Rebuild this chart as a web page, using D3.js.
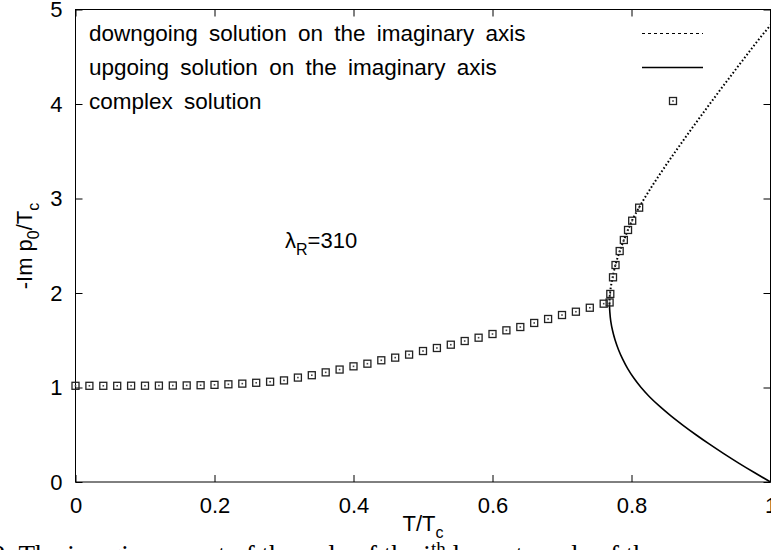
<!DOCTYPE html>
<html>
<head>
<meta charset="utf-8">
<script src="https://cdn.jsdelivr.net/npm/d3@7"></script>
<style>
  body { margin: 0; background: #fff; }
  svg { display: block; font-family: "Liberation Sans", Arial, sans-serif; }
</style>
</head>
<body>
<div id="chart_area"></div>
<script>
// complex solution (squares)
const complexT = [0, 0.02, 0.04, 0.06, 0.08, 0.10, 0.12, 0.14, 0.16, 0.18,
  0.20, 0.22, 0.24, 0.26, 0.28, 0.30, 0.32, 0.34, 0.36, 0.38,
  0.40, 0.42, 0.44, 0.46, 0.48, 0.50, 0.52, 0.54, 0.56, 0.58,
  0.60, 0.62, 0.64, 0.66, 0.68, 0.70, 0.72, 0.74, 0.76,
  0.7685, 0.7695, 0.7734, 0.777, 0.783, 0.789, 0.795, 0.801, 0.811];
const complexV = [1.018, 1.018, 1.018, 1.018, 1.019, 1.019, 1.020, 1.021, 1.022, 1.024,
  1.028, 1.034, 1.041, 1.050, 1.061, 1.075, 1.105, 1.13, 1.16, 1.19,
  1.224, 1.252, 1.288, 1.316, 1.348, 1.386, 1.418, 1.453, 1.492, 1.527,
  1.566, 1.605, 1.640, 1.683, 1.725, 1.767, 1.802, 1.844, 1.887,
  1.90, 1.99, 2.166, 2.296, 2.444, 2.561, 2.667, 2.765, 2.903];

// downgoing solution on the imaginary axis (dotted)
const downT = [0.7683, 0.7686, 0.7700, 0.7730, 0.7770, 0.7830, 0.7890, 0.7950, 0.8010,
  0.8105, 0.8269, 0.8494, 0.8731, 0.8956, 0.9176, 0.9390, 0.9608, 0.9839, 1.0];
const downV = [1.88, 1.95, 2.05, 2.17, 2.30, 2.44, 2.56, 2.67, 2.77,
  2.90, 3.10, 3.35, 3.60, 3.83, 4.05, 4.26, 4.47, 4.69, 4.835];

// upgoing solution on the imaginary axis (solid)
const upT = [0.7683, 0.7688, 0.7702, 0.7728, 0.7765, 0.7813, 0.7873, 0.7945, 0.8033,
  0.8138, 0.8262, 0.8407, 0.8567, 0.8742, 0.8927, 0.9122, 0.9327, 0.9542, 0.9767, 1.0];
const upV = [1.88, 1.80, 1.70, 1.60, 1.50, 1.40, 1.30, 1.20, 1.10,
  1.00, 0.90, 0.80, 0.70, 0.60, 0.50, 0.40, 0.30, 0.20, 0.10, 0];

const xTicks = [0, 0.2, 0.4, 0.6, 0.8, 1];
const xTickLabels = ['0', '0.2', '0.4', '0.6', '0.8', '1'];
const yTicks = [0, 1, 2, 3, 4, 5];

const legendLabels = [
  'downgoing solution on the imaginary axis',
  'upgoing solution on the imaginary axis',
  'complex solution'
];

const width = 771;
const height = 550;
const plot = { left: 75.5, right: 770.5, top: 9.5, bottom: 482 };

const x = d3.scaleLinear().domain([0, 1]).range([plot.left, plot.right]);
const y = d3.scaleLinear().domain([0, 5]).range([plot.bottom, plot.top]);

const svg = d3
  .select('#chart_area')
  .append('svg')
  .attr('width', width)
  .attr('height', height);

// axes (gnuplot style: inward ticks, mirrored)
const fontSize = 22;
const bottomAxis = svg.append('g')
  .attr('transform', 'translate(0,' + plot.bottom + ')')
  .call(d3.axisBottom(x).tickValues(xTicks)
    .tickFormat((d, i) => xTickLabels[i])
    .tickSize(-7).tickPadding(15));
const leftAxis = svg.append('g')
  .attr('transform', 'translate(' + plot.left + ',0)')
  .call(d3.axisLeft(y).tickValues(yTicks).tickFormat(d3.format('d'))
    .tickSize(-7).tickPadding(13));
const topAxis = svg.append('g')
  .attr('transform', 'translate(0,' + plot.top + ')')
  .call(d3.axisTop(x).tickValues(xTicks).tickFormat('').tickSize(-7));
const rightAxis = svg.append('g')
  .attr('transform', 'translate(' + plot.right + ',0)')
  .call(d3.axisRight(y).tickValues(yTicks).tickFormat('').tickSize(-7));

[bottomAxis, leftAxis, topAxis, rightAxis].forEach(g => {
  g.select('.domain').remove();
  g.selectAll('line').attr('stroke', '#000').attr('stroke-width', 1);
  g.selectAll('text')
    .attr('fill', '#000')
    .style('font-family', '"Liberation Sans", Arial, sans-serif')
    .style('font-size', fontSize + 'px');
});

// border
svg.append('rect')
  .attr('x', plot.left)
  .attr('y', plot.top)
  .attr('width', plot.right - plot.left)
  .attr('height', plot.bottom - plot.top)
  .attr('fill', 'none')
  .attr('stroke', '#000')
  .attr('stroke-width', 1);

// curves (both are single valued in v, so smooth along y)
const line = d3.line()
  .x(d => x(d[0]))
  .y(d => y(d[1]))
  .curve(d3.curveMonotoneY);

const downData = downT.map((t, i) => [t, downV[i]]);
const upData = upT.map((t, i) => [t, upV[i]]);

svg.append('path')
  .datum(downData)
  .attr('d', line)
  .attr('fill', 'none')
  .attr('stroke', '#000')
  .attr('stroke-width', 2)
  .attr('stroke-dasharray', '1.6,2.2');

svg.append('path')
  .datum(upData)
  .attr('d', line)
  .attr('fill', 'none')
  .attr('stroke', '#000')
  .attr('stroke-width', 1.6);

// squares
function square(g, cx, cy) {
  g.append('rect')
    .attr('x', cx - 3.5).attr('y', cy - 3.5)
    .attr('width', 7).attr('height', 7)
    .attr('fill', 'none')
    .attr('stroke', '#222')
    .attr('stroke-width', 1.3);
  g.append('rect')
    .attr('x', cx - 0.8).attr('y', cy - 0.8)
    .attr('width', 1.6).attr('height', 1.6)
    .attr('fill', '#444');
}
const pts = svg.append('g');
complexT.forEach((t, i) => square(pts, x(t), y(complexV[i])));

// legend
const legend = svg.append('g')
  .style('font-size', '22.5px')
  .style('word-spacing', '5px');
const legY = [41, 75, 109];
legendLabels.forEach((s, i) => {
  legend.append('text').attr('x', 89).attr('y', legY[i]).text(s);
});
legend.append('line')
  .attr('x1', 642).attr('x2', 703).attr('y1', 33.5).attr('y2', 33.5)
  .attr('stroke', '#000').attr('stroke-width', 1)
  .attr('stroke-dasharray', '3,3');
legend.append('line')
  .attr('x1', 642).attr('x2', 703).attr('y1', 67.5).attr('y2', 67.5)
  .attr('stroke', '#000').attr('stroke-width', 1.5);
square(legend, 673, 101);

// annotation
const ann = svg.append('text')
  .attr('x', 285).attr('y', 248)
  .style('font-size', fontSize + 'px');
ann.append('tspan').text('\u03bb');
ann.append('tspan').attr('dy', 7).style('font-size', '16px').text('R');
ann.append('tspan').attr('dy', -7).text('=310');

// axis titles
const xt = svg.append('text')
  .attr('x', 423).attr('y', 531)
  .attr('text-anchor', 'middle')
  .style('font-size', fontSize + 'px');
xt.append('tspan').text('T/T');
xt.append('tspan').attr('dy', 7).style('font-size', '16px').text('c');

const yt = svg.append('text')
  .attr('transform', 'translate(32,246) rotate(-90)')
  .attr('text-anchor', 'middle')
  .style('font-size', fontSize + 'px');
yt.append('tspan').text('-Im p');
yt.append('tspan').attr('dy', 7).style('font-size', '16px').text('0');
yt.append('tspan').attr('dy', -7).text('/T');
yt.append('tspan').attr('dy', 7).style('font-size', '16px').text('c');

// caption (cut off by the page edge)
const cap = svg.append('text')
  .attr('x', -8).attr('y', 564)
  .style('font-family', '"Liberation Serif", "DejaVu Serif", serif')
  .style('font-size', '27px');
cap.append('tspan').text('2.  The imaginary part of the pole of the i');
cap.append('tspan').attr('dy', -9).style('font-size', '19px').text('th');
cap.append('tspan').attr('dy', 9).text(' lowest mode of the');
</script>
</body>
</html>
